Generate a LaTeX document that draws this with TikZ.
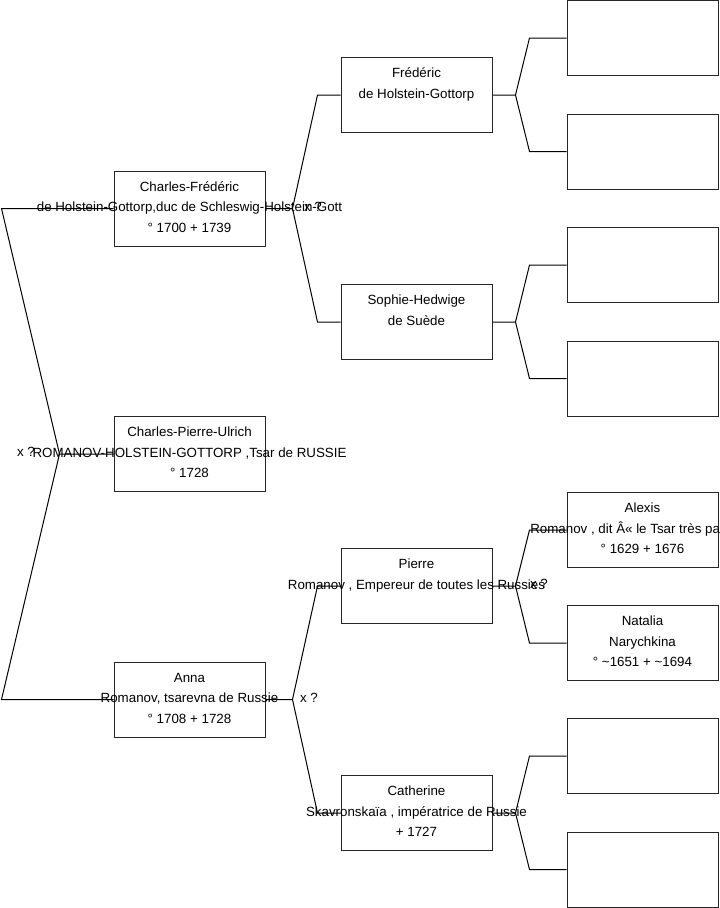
\documentclass[tikz,border=0pt]{standalone}
\usepackage{fontspec}
\setmainfont{Liberation Sans}

\tikzset{
  person/.style={draw=black!85, line width=0.75pt, minimum width=113.25pt,
    minimum height=56.25pt, inner sep=0pt},
  pname/.style={anchor=north, align=center, inner sep=0pt,
    font=\fontsize{10}{15.4}\selectfont},
  link/.style={line width=0.75pt},
  union/.style={inner sep=0pt, font=\fontsize{10}{12}\selectfont}
}

\begin{document}
\begin{tikzpicture}[x=0.75pt,y=-0.75pt]
  \useasboundingbox (0,0) rectangle (719,908);

  % Boxes
  \node[person] (cf)   at (189.5,208.5) {};
  \node[person] (cpu)  at (189.5,454)   {};
  \node[person] (anna) at (189.5,699.5) {};
  \node[person] (fh) at (416.5,95)  {};
  \node[person] (sh) at (416.5,322) {};
  \node[person] (pr) at (416.5,586) {};
  \node[person] (ca) at (416.5,813) {};
  \foreach \n/\y in {g1/38, g2/151.5, g3/265, g4/378.5, al/530, na/643, g7/756, g8/869.5}
    \node[person] (\n) at (642.5,\y) {};

  % Links
  \draw[link] (cpu.west) -- ++(-54,0) coordinate (rj)
    -- ([xshift=-84pt]cf.west) -- (cf.west);
  \draw[link] (rj) -- ([xshift=-84pt]anna.west) -- (anna.west);
  \foreach \p/\a/\b in {cf/fh/sh, anna/pr/ca} {
    \draw[link] (\p.east) -- ++(27,0) coordinate (\p j)
      -- ([xshift=-17.25pt]\a.west) -- (\a.west);
    \draw[link] (\p j) -- ([xshift=-17.25pt]\b.west) -- (\b.west);
  }
  \foreach \p/\a/\b in {fh/g1/g2, sh/g3/g4, pr/al/na, ca/g7/g8} {
    \draw[link] (\p.east) -- ++(23,0) coordinate (\p j)
      -- ([xshift=-27.75pt]\a.west) -- (\a.west);
    \draw[link] (\p j) -- ([xshift=-27.75pt]\b.west) -- (\b.west);
  }

  % Names
  \node[pname] (cft) at ([yshift=-4.4pt]cf.north)
    {\strut Charles-Frédéric\\de Holstein-Gottorp,duc de Schleswig-Holstein-Gott\\° 1700 + 1739};
  \node[pname] (cput) at ([yshift=-4.4pt]cpu.north)
    {\strut Charles-Pierre-Ulrich\\ROMANOV-HOLSTEIN-GOTTORP ,Tsar de RUSSIE\\° 1728};
  \node[pname] (annat) at ([yshift=-4.4pt]anna.north)
    {\strut Anna\\Romanov, tsarevna de Russie\\° 1708 + 1728};
  \node[pname] (fht) at ([yshift=-4.4pt]fh.north)
    {\strut Frédéric\\de Holstein-Gottorp};
  \node[pname] (sht) at ([yshift=-4.4pt]sh.north)
    {\strut Sophie-Hedwige\\de Suède};
  \node[pname] (prt) at ([yshift=-4.4pt]pr.north)
    {\strut Pierre\\Romanov , Empereur de toutes les Russies};
  \node[pname] (cat) at ([yshift=-4.4pt]ca.north)
    {\strut Catherine\\Skavronskaïa , impératrice de Russie\\+ 1727};
  \node[pname] (alt) at ([yshift=-4.4pt]al.north)
    {\strut Alexis\\Romanov , dit Â« le Tsar très pa\hspace{26pt}\mbox{}\\° 1629 + 1676};
  \node[pname] (nat) at ([yshift=-4.4pt]na.north)
    {\strut Natalia\\Narychkina\\° \textasciitilde1651 + \textasciitilde1694};

  % Unions
  \node[union] (xr)   at (26,452)  {x ?};
  \node[union] (xcf)  at (313,207) {x ?};
  \node[union] (xan)  at (309,698) {x ?};
  \node[union] (xpr)  at (539,584) {x ?};
\end{tikzpicture}
\end{document}
